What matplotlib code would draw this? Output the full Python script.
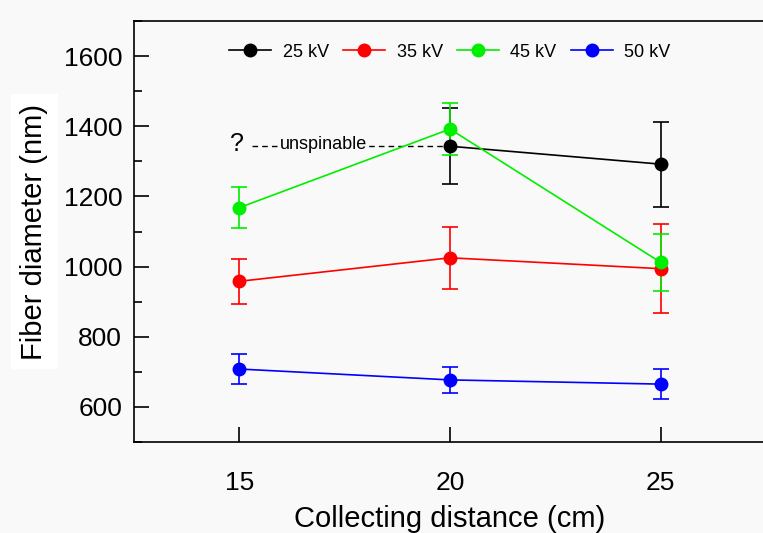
import matplotlib
matplotlib.use("Agg")
from matplotlib import pyplot as plt
from matplotlib.lines import Line2D
from matplotlib.ticker import MultipleLocator

plt.rcParams['font.family'] = ['Liberation Sans', 'DejaVu Sans']

distance = [15, 20, 25]

labels = ['25 kV', '35 kV', '45 kV', '50 kV']
colors = ['black', 'red', '#00ee00', 'blue']

d25 = [20, 25]
v25 = [1343, 1292]
e25 = [108, 121]

v35 = [958, 1025, 994]
e35 = [64, 89, 127]

v45 = [1168, 1392, 1012]
e45 = [58, 74, 82]

v50 = [708, 677, 665]
e50 = [42, 38, 43]

series = [(d25, v25, e25), (distance, v35, e35), (distance, v45, e45), (distance, v50, e50)]

bg = '#f9f9f9'
fig = plt.figure(figsize=(7.63, 5.33), dpi=100, facecolor=bg)
ax = fig.add_axes([134 / 763, 91 / 533, 632 / 763, 421 / 533])
ax.set_facecolor(bg)

handles = []
for (x, y, e), c, lab in zip(series, colors, labels):
    ax.errorbar(x, y, yerr=e, color=c, marker='o', markersize=9, lw=1.2,
                elinewidth=1.2, capsize=6, capthick=1.2)
    handles.append(Line2D([], [], color=c, marker='o', markersize=9, lw=1.2, label=lab))

# unspinable marker for 25 kV at 15 cm
ax.plot([15.3, 20], [v25[0], v25[0]], ls=(0, (4, 3)), color='black', lw=1, zorder=1)
ax.text(14.95, v25[0] + 5, '?', fontsize=18, ha='center', va='center')
ax.text(17.0, v25[0] + 5, 'unspinable', fontsize=13, ha='center', va='center',
        bbox=dict(facecolor=bg, edgecolor='none', pad=0.5))

ax.set_xlim(12.5, 27.5)
ax.set_ylim(500, 1700)
ax.set_xticks(distance)
ax.set_yticks([600, 800, 1000, 1200, 1400, 1600])
ax.yaxis.set_minor_locator(MultipleLocator(100))
ax.tick_params(axis='both', which='major', direction='in', length=11, width=1.2,
               labelsize=19)
ax.tick_params(axis='y', which='minor', direction='in', length=6, width=1.2)
ax.tick_params(axis='y', pad=8.5)
ax.tick_params(axis='x', pad=21)
for s in ax.spines.values():
    s.set_linewidth(1.2)

ax.set_xlabel('Collecting distance (cm)', fontsize=21, labelpad=7)
ax.set_ylabel('Fiber diameter (nm)', fontsize=21, labelpad=11,
              bbox=dict(facecolor='white', edgecolor='none', pad=7))

ax.legend(handles=handles, loc='upper center', ncol=4, frameon=False, fontsize=13,
          bbox_to_anchor=(0.5, 0.985), handlelength=2.3, columnspacing=0.8,
          handletextpad=0.65)

fig.savefig('out.png', dpi=100, facecolor=bg)
